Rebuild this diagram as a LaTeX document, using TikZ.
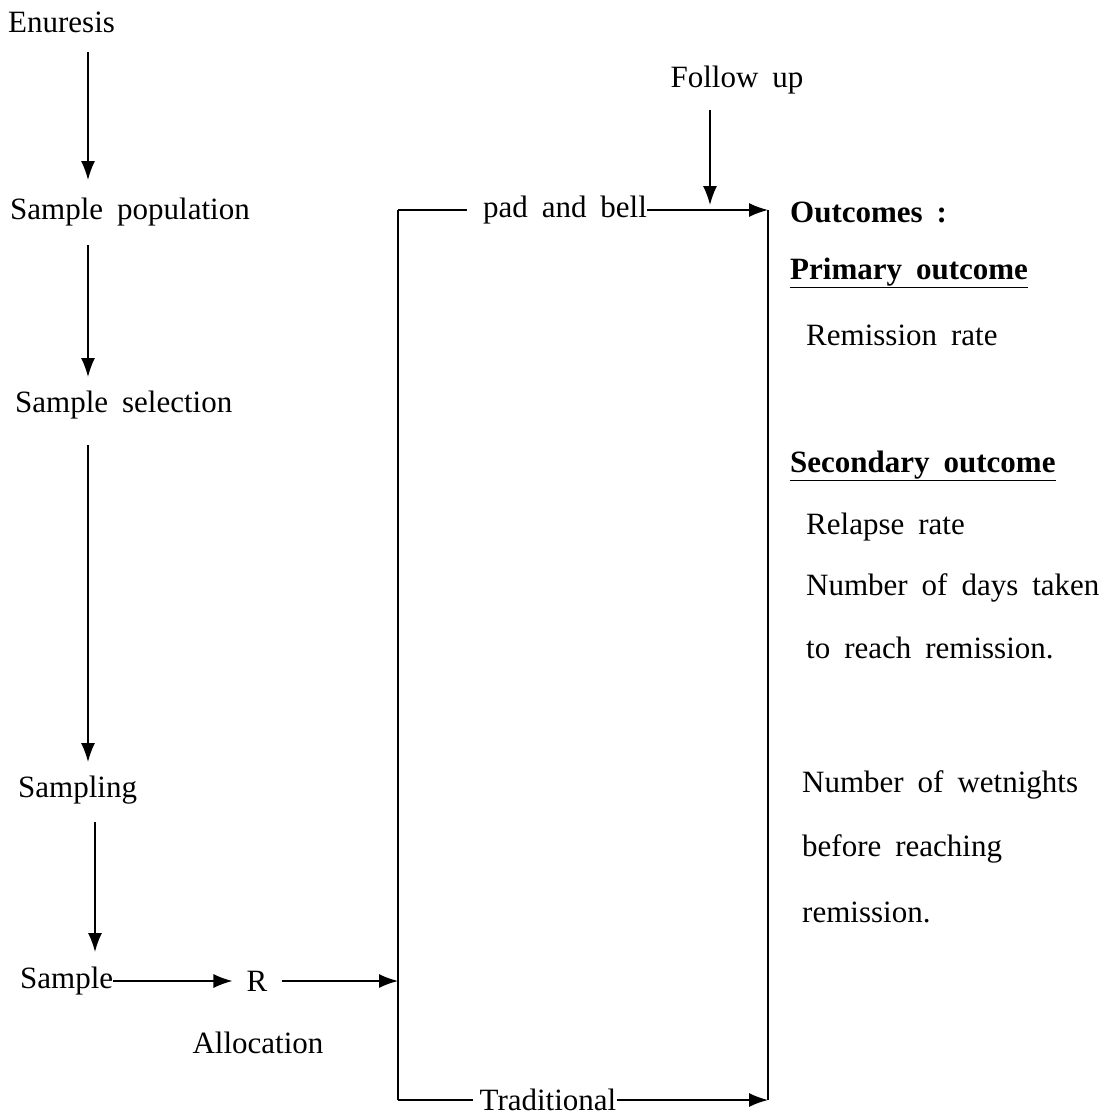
\documentclass[tikz,border=0pt]{standalone}
\usepackage{fontspec}
\setmainfont[WordSpace=1.8]{Liberation Serif}
\usetikzlibrary{arrows.meta,positioning}

\tikzset{
    lbl/.style={inner sep=0pt, anchor=west, font=\fontsize{31}{36}\selectfont},
    arr/.style={line width=1.5pt, -{Latex[length=19pt,width=14pt]}},
    ln/.style={line width=1.5pt}
}
\newcommand{\ulabel}[1]{\underline{#1}}

\begin{document}
\begin{tikzpicture}[x=1pt, y=-1pt, black]
    \useasboundingbox (0,0) rectangle (1115,1119);

    %left column
    \node[lbl] (enu) at (8,22) {Enuresis};
    \node[lbl] (pop) at (10,212) {Sample population};
    \node[lbl] (sel) at (15,405) {Sample selection};
    \node[lbl] (spl) at (18,790) {Sampling};
    \node[lbl] (smp) at (20,981) {Sample};
    \node[lbl,anchor=center] (R) at (257,981) {R};
    \node[lbl,anchor=center] (alloc) at (258,1043) {Allocation};

    %box corners
    \coordinate (tl) at (398,210);
    \coordinate (bl) at (398,1100);
    \coordinate (tr) at (768,210);
    \coordinate (br) at (768,1100);
    \coordinate (split) at (398,981);
    \coordinate (fu) at (710,205);

    %arms
    \node[lbl,anchor=center] (pad) at (565,210) {pad and bell};
    \node[lbl,anchor=center] (trad) at (548,1100) {Traditional};
    \node[lbl,anchor=center] (fup) at (737,80) {Follow up};

    %outcomes
    \node[lbl] (out) at (790,212) {\textbf{Outcomes :}};
    \node[lbl] (prim) at (790,273) {\textbf{\ulabel{Primary outcome}}};
    \node[lbl] (remr) at (806,335) {Remission rate};
    \node[lbl] (sec) at (790,466) {\textbf{\ulabel{Secondary outcome}}};
    \node[lbl] (rel) at (806,527) {Relapse rate};
    \node[lbl] (days) at (806,588) {Number of days taken};
    \node[lbl] (reach) at (806,648) {to reach remission.};
    \node[lbl] (wet) at (802,785) {Number of wetnights};
    \node[lbl] (bef) at (802,849) {before reaching};
    \node[lbl] (rem) at (802,912) {remission.};

    %flow down
    \draw[arr] (88,52) -- (88,180);
    \draw[arr] (88,245) -- (88,377);
    \draw[arr] (88,445) -- (88,762);
    \draw[arr] (95,822) -- (95,952);
    \draw[arr, shorten >=14pt] (smp.east) -- (R.west);
    \draw[arr, shorten <=14pt] (R.east) -- (split);

    %box
    \draw[ln] (tl) -- (bl);
    \draw[ln] (tr) -- (br);
    \draw[ln, shorten >=16pt] (tl) -- (pad.west);
    \draw[arr] (pad.east) -- (tr);
    \draw[ln, shorten <=6pt] (trad.west) -- (bl);
    \draw[arr] (trad.east) -- (br);
    \draw[arr] (710,110) -- (fu);
\end{tikzpicture}
\end{document}
